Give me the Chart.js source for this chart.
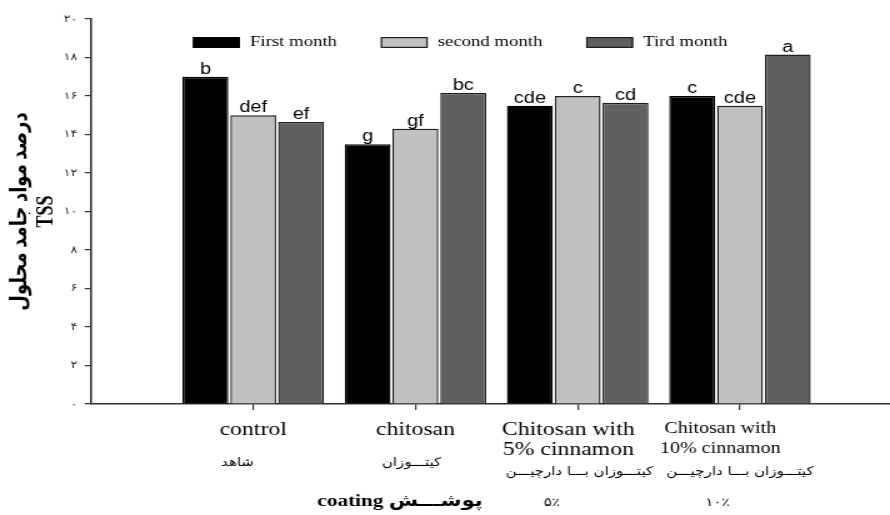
<!DOCTYPE html>
<html>
<head>
<meta charset="utf-8">
<script src="https://cdn.jsdelivr.net/npm/chart.js@4"></script>
<style>
html,body{margin:0;padding:0;background:#fff;overflow:hidden}
</style>
</head>
<body>
<canvas id="c" width="712" height="515" style="display:block;width:890px;height:515px"></canvas>
<script>
// ---------------- data ----------------
const categories = ['control', 'chitosan', 'Chitosan with 5% cinnamon', 'Chitosan with 10% cinnamon'];
const seriesNames = ['First month', 'second month', 'Tird month'];
const firstMonth  = [17.0, 13.5, 15.5, 16.0];
const secondMonth = [15.0, 14.3, 16.0, 15.5];
const thirdMonth  = [14.65, 16.15, 15.65, 18.15];
const firstLetters  = ['b', 'g', 'cde', 'c'];
const secondLetters = ['def', 'gf', 'c', 'cde'];
const thirdLetters  = ['ef', 'bc', 'cd', 'a'];
const yTickLabels = ['۰', '۲', '۴', '۶', '۸', '۱۰', '۱۲', '۱۴', '۱۶', '۱۸', '۲۰'];
const xLabelsEn = [['control'], ['chitosan'], ['Chitosan with', '5% cinnamon'], ['Chitosan with', '10% cinnamon']];
const xLabelsFa = ['شاهد', 'کیتـــوزان', 'کیتـــوزان بـــا دارچیـــن', 'کیتـــوزان بـــا دارچیـــن'];
const xLabelsPct = ['', '', '۵٪', '۱۰٪'];
const yTitle = ['درصد مواد جامد محلول', 'TSS'];
const xTitle = 'coating پوشـــش';

// ---------------- layout / style ----------------
const AREA_TOP = 19, AREA_BOTTOM = 404, Y_MAX = 20;
const X_MIN = 0, X_MAX = 4.925;
const yAt = px => (AREA_BOTTOM - px) / (AREA_BOTTOM - AREA_TOP) * Y_MAX;
const serif = "'Liberation Serif', 'Times New Roman', 'DejaVu Sans', serif";
const persian = "'DejaVu Sans', sans-serif";
const enFont = {family: serif, size: 19, lineHeight: '20.7px'};
const en10Font = {family: serif, size: 16, lineHeight: '20px'};
const faFont = {family: persian, size: 12, lineHeight: '14px'};
const subFont = {family: persian, size: 12, lineHeight: '24px'};
const titleFont = {family: serif, size: 17, weight: 'bold', lineHeight: '20px'};
const enShift = [0, 0, -0.058, -0.121];
const faShift = [-0.097, -0.024, 0.01, 0];
const pctShift = [0, 0, -0.159, -0.139];
const xTitleAt = 1.905;

const zeroPad = s => { s.paddingLeft = 0; s.paddingRight = 0; s.paddingTop = 0; s.paddingBottom = 0; };

function rowAxis(pixelY, entries) {
  return {
    type: 'linear', axis: 'x', position: {y: yAt(pixelY)},
    min: X_MIN, max: X_MAX, offset: false,
    grid: {display: false, drawTicks: false, offset: false},
    border: {display: false},
    afterBuildTicks: s => { s.ticks = entries.map(e => ({value: e.value})); },
    afterFit: zeroPad,
    ticks: {
      autoSkip: false, maxRotation: 0, minRotation: 0, padding: 0, color: '#000',
      font: c => (entries[c.index] || entries[0]).font,
      callback: (v, i) => entries[i] ? entries[i].text : ''
    }
  };
}

const enEntries = categories.map((c, i) => ({value: i + 1 + enShift[i], text: xLabelsEn[i], font: i === 3 ? en10Font : enFont}));
const fa1Entries = [0, 1].map(i => ({value: i + 1 + faShift[i], text: xLabelsFa[i], font: faFont}));
const fa2Entries = [2, 3].map(i => ({value: i + 1 + faShift[i], text: xLabelsFa[i], font: faFont}));
const subEntries = [2, 3].map(i => ({value: i + 1 + pctShift[i], text: xLabelsPct[i], font: subFont}))
  .concat([{value: xTitleAt, text: xTitle, font: titleFont}]);

const barColors = ['#000000', '#c0c0c0', '#606060'];
const borderColors = ['#000000', '#1e1e1e', '#1e1e1e'];
const seriesValues = [firstMonth, secondMonth, thirdMonth];
const seriesLetters = [firstLetters, secondLetters, thirdLetters];

const datasets = seriesNames.map((name, s) => ({
  label: name,
  data: categories.map((c, i) => ({x: i + 1, y: seriesValues[s][i]})),
  letters: seriesLetters[s],
  backgroundColor: barColors[s],
  borderColor: borderColors[s],
  borderWidth: 1.4,
  categoryPercentage: 0.884,
  barPercentage: 0.96,
  xAxisID: 'x', yAxisID: 'y'
}));

const letterPlugin = {
  id: 'letters',
  afterDatasetsDraw(chart) {
    const ctx = chart.ctx;
    ctx.save();
    ctx.font = "16px 'Liberation Sans', Arial, sans-serif";
    ctx.fillStyle = '#000';
    ctx.textAlign = 'center';
    ctx.textBaseline = 'alphabetic';
    chart.data.datasets.forEach((ds, di) => {
      chart.getDatasetMeta(di).data.forEach((bar, i) => {
        ctx.fillText(ds.letters[i], bar.x, bar.y - 3);
      });
    });
    ctx.restore();
  }
};

const legendPlugin = {
  id: 'innerLegend',
  afterDraw(chart) {
    const ctx = chart.ctx, area = chart.chartArea;
    const boxW = 37.6, boxH = 11, textGap = 8, itemGap = 35;
    let x = area.left + 81.6;
    const yMid = area.top + 23.5;
    ctx.save();
    ctx.font = "15px " + serif;
    ctx.textBaseline = 'middle';
    ctx.textAlign = 'left';
    chart.data.datasets.forEach(ds => {
      ctx.fillStyle = ds.backgroundColor;
      ctx.fillRect(x, yMid - boxH / 2, boxW, boxH);
      ctx.strokeStyle = ds.borderColor;
      ctx.lineWidth = 1.2;
      ctx.strokeRect(x + 0.6, yMid - boxH / 2 + 0.6, boxW - 1.2, boxH - 1.2);
      ctx.fillStyle = '#000';
      ctx.fillText(ds.label, x + boxW + textGap, yMid);
      x += boxW + textGap + ctx.measureText(ds.label).width + itemGap;
    });
    ctx.restore();
  }
};

new Chart(document.getElementById('c'), {
  type: 'bar',
  data: {datasets},
  options: {
    responsive: false,
    devicePixelRatio: 1,
    animation: false,
    layout: {padding: {top: AREA_TOP, left: 0, right: 0, bottom: 0}},
    plugins: {legend: {display: false}, tooltip: {enabled: false}},
    scales: {
      x: {
        type: 'linear', position: 'bottom', min: X_MIN, max: X_MAX, offset: false,
        grid: {drawOnChartArea: false, drawTicks: true, tickLength: 6, color: '#333', lineWidth: 1.2, offset: false},
        border: {display: true, color: '#333', width: 1.6},
        ticks: {display: false},
        afterBuildTicks: s => { s.ticks = categories.map((c, i) => ({value: i + 1})); },
        afterFit: s => { s.height = 515 - AREA_BOTTOM; zeroPad(s); }
      },
      y: {
        type: 'linear', position: 'left', min: 0, max: Y_MAX,
        grid: {drawOnChartArea: false, drawTicks: true, tickLength: 5, color: '#333', lineWidth: 1.2},
        border: {display: true, color: '#333', width: 1.6},
        ticks: {stepSize: 2, padding: 6, color: '#222',
          font: {family: persian, size: 10},
          callback: (v, i) => yTickLabels[i]},
        title: {display: true, text: yTitle, color: '#000',
          font: {family: serif, size: 18, weight: 'bold', lineHeight: '21px'},
          padding: {top: 6.3, bottom: 0}},
        afterFit: s => { s.width = 72.8; zeroPad(s); }
      },
      xEn: rowAxis(419.25, enEntries),
      xFa1: rowAxis(456, fa1Entries),
      xFa2: rowAxis(465, fa2Entries),
      xSub: rowAxis(491.3, subEntries)
    }
  },
  plugins: [letterPlugin, legendPlugin]
});
</script>
</body>
</html>
